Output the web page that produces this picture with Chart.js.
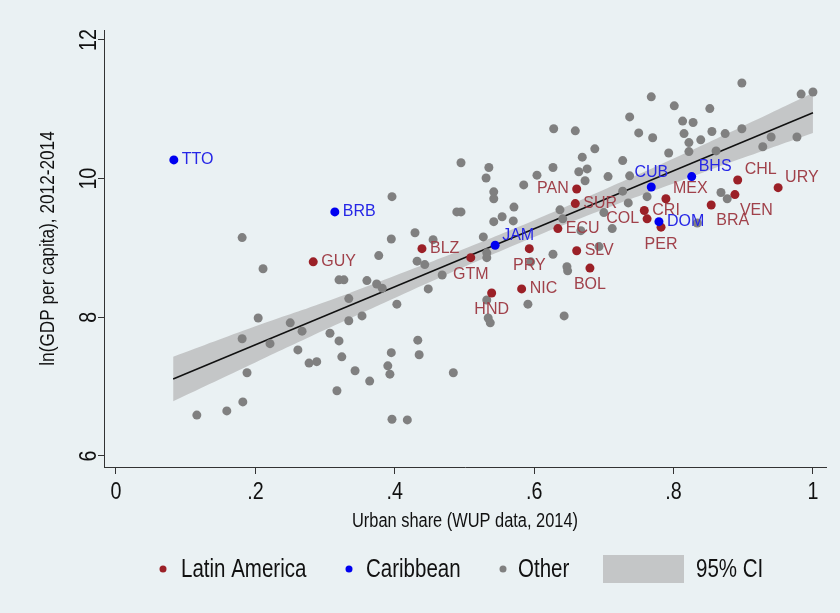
<!DOCTYPE html>
<html>
<head>
<meta charset="utf-8">
<script src="https://cdn.jsdelivr.net/npm/chart.js@4.4.1/dist/chart.umd.min.js"></script>
<style>
  html, body { margin: 0; padding: 0; background: #eaf1f3; }
  #chart { display: block; }
</style>
</head>
<body>
<canvas id="chart" width="840" height="613"></canvas>
<script>
// Latin America
const latinCodes = ['GUY','BLZ','GTM','PRY','NIC','HND','ECU','SLV','BOL','PAN','SUR','CRI','COL','PER','MEX','BRA','VEN','CHL','URY'];
const latinX = [0.283,0.439,0.509,0.593,0.582,0.539,0.634,0.661,0.680,0.661,0.659,0.758,0.762,0.782,0.789,0.854,0.888,0.892,0.950];
const latinY = [8.80,8.99,8.86,8.99,8.41,8.35,9.28,8.96,8.71,9.85,9.64,9.54,9.42,9.30,9.71,9.62,9.77,9.98,9.87];
// label clock position (Stata style)
const latinPos = [3,3,6,6,3,6,3,3,6,9,3,3,9,6,2,4,4,2,2];

// Caribbean
const caribCodes = ['TTO','BRB','JAM','CUB','BHS','DOM'];
const caribX = [0.083,0.314,0.544,0.768,0.826,0.779];
const caribY = [10.27,9.52,9.04,9.88,10.03,9.38];
const caribPos = [3,3,2,12,2,3];

// Other countries
const otherX = [0.116,0.159,0.182,0.188,0.181,0.204,0.211,0.181,0.221,0.250,0.267,0.261,0.277,0.288,0.307,0.320,
  0.324,0.343,0.317,0.334,0.353,0.334,0.320,0.327,0.360,0.374,0.382,0.377,0.364,0.395,0.390,0.393,0.396,0.418,
  0.403,0.395,0.396,0.429,0.455,0.432,0.443,0.468,0.448,0.433,0.435,0.484,0.489,0.495,0.495,0.535,0.531,0.542,
  0.542,0.554,0.542,0.570,0.571,0.527,0.532,0.532,0.532,0.534,0.537,0.591,0.595,0.627,0.647,0.648,0.643,0.693,
  0.667,0.637,0.641,0.585,0.604,0.627,0.628,0.659,0.687,0.669,0.664,0.676,0.673,0.706,0.727,0.737,0.768,0.801,
  0.750,0.770,0.813,0.828,0.815,0.822,0.839,0.855,0.874,0.898,0.898,0.852,0.793,0.822,0.861,0.928,0.940,0.977,
  0.983,1.000,0.737,0.727,0.762,0.735,0.700,0.712,0.868,0.877,0.834];
const otherY = [6.59,6.65,6.78,7.20,7.69,7.99,8.70,9.15,7.62,7.92,7.80,7.53,7.34,7.36,7.77,7.66,
  7.43,7.23,6.94,7.95,8.02,8.27,8.54,8.54,8.53,8.48,8.42,8.89,7.08,7.49,7.30,7.18,6.53,6.52,
  8.19,9.13,9.74,9.22,9.12,8.81,8.76,8.61,8.41,7.67,7.46,7.20,9.52,9.52,10.23,10.16,10.01,9.81,
  9.71,9.45,9.38,9.39,9.59,9.16,8.93,8.86,8.25,7.99,7.92,8.19,8.80,8.91,8.73,8.67,8.02,9.02,
  9.25,9.55,9.42,9.91,10.05,10.16,10.72,10.69,10.43,10.31,10.10,10.14,9.97,10.03,10.26,10.89,11.18,11.05,
  10.66,10.59,10.83,10.81,10.65,10.52,10.56,10.68,10.65,10.72,11.38,11.01,10.37,10.39,10.40,10.46,10.60,10.60,
  11.22,11.25,10.04,9.82,9.74,9.65,9.51,9.28,9.80,9.71,9.36];

// linear fit and 95% CI
const fitX = [0.082, 1.0];
const fitY = [7.11, 10.95];
const ciX    = [0.082, 0.2,  0.3,  0.4,  0.5,  0.6,  0.7,  0.8,   0.9,   1.0];
const ciLow  = [6.79,  7.35, 7.82, 8.28, 8.73, 9.16, 9.56, 9.93,  10.30, 10.66];
const ciHigh = [7.43,  7.87, 8.22, 8.60, 8.99, 9.40, 9.84, 10.29, 10.76, 11.24];

const xTickValues = [0, 0.2, 0.4, 0.6, 0.8, 1];
const xTickLabels = ['0', '.2', '.4', '.6', '.8', '1'];
const yTickValues = [6, 8, 10, 12];
const yTickLabels = ['6', '8', '10', '12'];

const xTitle = 'Urban share (WUP data, 2014)';
const yTitle = 'ln(GDP per capita), 2012-2014';
const legendLabels = ['Latin America', 'Caribbean', 'Other', '95% CI'];

const BG = '#eaf1f3';
const RED = '#9b2027', RED_TXT = '#a0414a';
const BLUE = '#0000f0', BLUE_TXT = '#2626e6';
const GREY = '#808080';
const CI_FILL = '#c4c6c7';
const AXIS = '#333333';
const TXT = '#111111';
const SANS = '"Liberation Sans", Arial, sans-serif';
const CONDENSE = 0.82;   // Stata graph text looks horizontally squeezed

const pts = (xs, ys) => xs.map((x, i) => ({ x: x, y: ys[i] }));

// condensed text helper
function narrowText(ctx, str, x, y, size, align, rot) {
    ctx.save();
    ctx.translate(x, y);
    if (rot) ctx.rotate(rot);
    ctx.scale(CONDENSE, 1);
    ctx.font = size + 'px ' + SANS;
    ctx.fillStyle = TXT;
    ctx.textAlign = align;
    ctx.textBaseline = 'middle';
    ctx.fillText(str, 0, 0);
    ctx.restore();
}

// label offsets by clock position
function labelPlace(pos) {
    switch (pos) {
        case 2:  return { dx: 7,  dy: -10, align: 'left' };
        case 4:  return { dx: 5,  dy: 16,  align: 'left' };
        case 6:  return { dx: 0,  dy: 17,  align: 'center' };
        case 9:  return { dx: -8, dy: 0,   align: 'right' };
        case 12: return { dx: 0,  dy: -14, align: 'center' };
        default: return { dx: 8,  dy: 0,   align: 'left' };
    }
}

const bgPlugin = {
    id: 'bg',
    beforeDraw(chart) {
        const ctx = chart.ctx;
        ctx.save();
        ctx.fillStyle = BG;
        ctx.fillRect(0, 0, chart.width, chart.height);
        ctx.restore();
    }
};

const markLabels = {
    id: 'markLabels',
    afterDatasetsDraw(chart) {
        const ctx = chart.ctx;
        const groups = [
            { ds: 2, codes: latinCodes, pos: latinPos, color: RED_TXT },
            { ds: 3, codes: caribCodes, pos: caribPos, color: BLUE_TXT }
        ];
        ctx.save();
        ctx.font = '16px ' + SANS;
        ctx.textBaseline = 'middle';
        groups.forEach(g => {
            const meta = chart.getDatasetMeta(g.ds);
            meta.data.forEach((el, i) => {
                const p = labelPlace(g.pos[i]);
                ctx.fillStyle = g.color;
                ctx.textAlign = p.align;
                ctx.fillText(g.codes[i], el.x + p.dx, el.y + p.dy);
            });
        });
        ctx.restore();
    }
};

// axis labels and titles
const axisText = {
    id: 'axisText',
    afterDraw(chart) {
        const ctx = chart.ctx;
        const xs = chart.scales.x, ys = chart.scales.y;
        const area = chart.chartArea;
        yTickValues.forEach((v, i) => {
            narrowText(ctx, yTickLabels[i], area.left - 15, ys.getPixelForValue(v), 24, 'center', -Math.PI / 2);
        });
        xTickValues.forEach((v, i) => {
            narrowText(ctx, xTickLabels[i], xs.getPixelForValue(v), area.bottom + 25, 24, 'center', 0);
        });
        narrowText(ctx, xTitle, (area.left + area.right) / 2, area.bottom + 54, 20, 'center', 0);
        narrowText(ctx, yTitle, 48, (area.top + area.bottom) / 2, 21, 'center', -Math.PI / 2);
    }
};

const legendPlugin = {
    id: 'stataLegend',
    afterDraw(chart) {
        const ctx = chart.ctx;
        const y = 569;
        const dots = [[163, RED], [349, BLUE], [503, GREY]];
        const texts = [181, 366, 518];
        dots.forEach((d, i) => {
            ctx.save();
            ctx.fillStyle = d[1];
            ctx.beginPath();
            ctx.arc(d[0], y, 3.5, 0, Math.PI * 2);
            ctx.fill();
            ctx.restore();
            narrowText(ctx, legendLabels[i], texts[i], y + 1, 25, 'left', 0);
        });
        ctx.save();
        ctx.fillStyle = CI_FILL;
        ctx.fillRect(603, 555, 81, 28);
        ctx.restore();
        narrowText(ctx, legendLabels[3], 696, y + 1, 25, 'left', 0);
    }
};

new Chart(document.getElementById('chart'), {
    type: 'scatter',
    data: {
        datasets: [
            {
                type: 'line', label: 'ciLow', data: pts(ciX, ciLow),
                borderWidth: 0, pointRadius: 0, fill: false, tension: 0.4, order: 6
            },
            {
                type: 'line', label: '95% CI', data: pts(ciX, ciHigh),
                borderWidth: 0, pointRadius: 0, fill: '-1', backgroundColor: CI_FILL, tension: 0.4, order: 5
            },
            {
                label: 'Latin America', data: pts(latinX, latinY),
                backgroundColor: RED, borderWidth: 0, pointRadius: 4.5, order: 1
            },
            {
                label: 'Caribbean', data: pts(caribX, caribY),
                backgroundColor: BLUE, borderWidth: 0, pointRadius: 4.5, order: 0
            },
            {
                label: 'Other', data: pts(otherX, otherY),
                backgroundColor: GREY, borderWidth: 0, pointRadius: 4.5, order: 2
            },
            {
                type: 'line', label: 'Fitted values', data: pts(fitX, fitY),
                borderColor: '#111', borderWidth: 1.5, pointRadius: 0, fill: false, order: 3
            }
        ]
    },
    options: {
        responsive: false,
        animation: false,
        devicePixelRatio: 1,
        layout: { padding: { top: 30, right: 14, bottom: 76, left: 0 } },
        plugins: {
            legend: { display: false },
            tooltip: { enabled: false }
        },
        scales: {
            x: {
                type: 'linear', bounds: 'data', min: -0.0172, max: 1.0187,
                afterFit: s => { s.height = 70; },
                afterBuildTicks: s => { s.ticks = xTickValues.map(v => ({ value: v })); },
                grid: { drawOnChartArea: false, drawTicks: true, tickLength: 7, color: AXIS },
                border: { color: AXIS, width: 1 },
                ticks: { color: 'rgba(0,0,0,0)', maxRotation: 0, autoSkip: false,
                         callback: (v, i) => xTickLabels[i] }
            },
            y: {
                type: 'linear', bounds: 'data', min: 5.841, max: 12.144,
                afterFit: s => { s.width = 104; },
                afterBuildTicks: s => { s.ticks = yTickValues.map(v => ({ value: v })); },
                grid: { drawOnChartArea: false, drawTicks: true, tickLength: 6, color: AXIS },
                border: { color: AXIS, width: 1 },
                ticks: { color: 'rgba(0,0,0,0)', autoSkip: false }
            }
        }
    },
    plugins: [bgPlugin, markLabels, axisText, legendPlugin]
});
</script>
</body>
</html>
